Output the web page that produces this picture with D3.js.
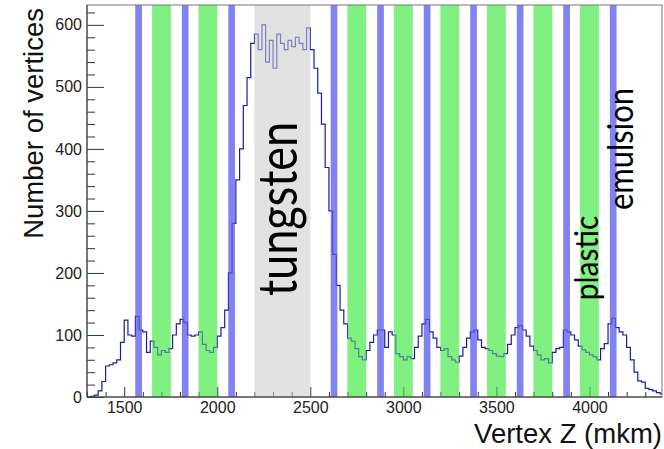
<!DOCTYPE html>
<html>
<head>
<meta charset="utf-8">
<script src="https://cdn.jsdelivr.net/npm/d3@7"></script>
<style>
  body { margin: 0; background: #fff; }
  .tick text { font-family: "Liberation Sans", Arial, sans-serif; font-size: 16px; fill: #222; }
  .aTitle { font-family: "Liberation Sans", Arial, sans-serif; font-size: 27.5px; fill: #111; }
  .note { font-family: Lato, "Open Sans", sans-serif; font-weight: 400; fill: #000; }
</style>
</head>
<body>
<div id="chart"></div>
<script>
// vertex Z histogram with detector layers
var svgWidth = 664;
var svgHeight = 449;

var margin = { top: 5, right: 2, bottom: 52, left: 87 };
var width = svgWidth - margin.left - margin.right;
var height = svgHeight - margin.top - margin.bottom;

// histogram: 20 mkm bins starting at 1300
var binStart = 1300;
var binWidth = 20;
var counts = [
  0, 1, 3, 10, 25, 50, 52, 55, 60, 88,
  124, 100, 98, 130, 108, 105, 72, 90, 80, 68,
  75, 72, 78, 100, 118, 125, 120, 100, 98, 100,
  105, 85, 75, 72, 80, 98, 112, 140, 200, 280,
  350, 400, 470, 515, 570, 585, 560, 600, 540, 575,
  530, 585, 570, 560, 575, 565, 580, 570, 560, 595,
  560, 530, 490, 440, 370, 300, 230, 180, 140, 118,
  95, 90, 78, 65, 60, 75, 88, 100, 108, 108,
  80, 105, 100, 70, 65, 60, 65, 62, 80, 98,
  118, 125, 105, 95, 80, 75, 78, 65, 60, 56,
  66, 80, 95, 105, 108, 92, 80, 78, 75, 70,
  66, 65, 70, 85, 100, 112, 115, 108, 98, 82,
  75, 68, 60, 62, 55, 72, 78, 80, 108, 105,
  100, 92, 82, 76, 72, 68, 65, 60, 78, 86,
  118, 127, 112, 105, 100, 80, 60, 40, 26, 24,
  14, 12, 10, 7, 5
];

// detector layers (mkm)
var emulsionLayers = [[1560, 1595], [1810, 1845], [2060, 2095], [2610, 2645], [2860, 2895],
                      [3110, 3145], [3360, 3395], [3610, 3645], [3860, 3895], [4110, 4145]];
var plasticLayers = [[1650, 1750], [1900, 2000], [2700, 2800], [2950, 3050],
                     [3200, 3300], [3450, 3550], [3700, 3800], [3950, 4050]];
var tungstenLayer = [[2200, 2500]];

var xTicks = [1500, 2000, 2500, 3000, 3500, 4000];
var yTicks = [0, 100, 200, 300, 400, 500, 600];

var svg = d3.select("#chart")
  .append("svg")
  .attr("width", svgWidth)
  .attr("height", svgHeight);

var chartGroup = svg.append("g")
  .attr("transform", `translate(${margin.left}, ${margin.top})`);

var x = d3.scaleLinear().domain([1300, 4390]).range([0, width]);
var y = d3.scaleLinear().domain([0, 632]).range([height, 0]);

chartGroup.append("clipPath").attr("id", "clip")
  .append("rect").attr("width", width).attr("height", height);

var plot = chartGroup.append("g").attr("clip-path", "url(#clip)");

function drawBands(g, layers, color, opacity) {
  g.selectAll(null)
    .data(layers)
    .enter()
    .append("rect")
    .attr("x", d => x(d[0]))
    .attr("width", d => x(d[1]) - x(d[0]))
    .attr("y", 0)
    .attr("height", height)
    .attr("fill", color)
    .attr("fill-opacity", opacity);
}

var bandColors = { tungsten: "#e2e2e2", plastic: "#80f080", emulsion: "#8282f2" };

drawBands(plot, tungstenLayer, bandColors.tungsten, 1);
drawBands(plot, plasticLayers, bandColors.plastic, 1);
drawBands(plot, emulsionLayers, bandColors.emulsion, 1);

// step line
var pts = counts.map((c, i) => [binStart + i * binWidth, c]);
pts.push([binStart + counts.length * binWidth, counts[counts.length - 1]]);

var line = d3.line()
  .x(d => x(d[0]))
  .y(d => y(d[1]))
  .curve(d3.curveStepAfter);

plot.append("path")
  .datum(pts)
  .attr("d", line)
  .attr("fill", "none")
  .attr("stroke", "#1c1c9c")
  .attr("stroke-width", 1.2);

// axes
var xMinor = d3.range(1300, 4400, 100).filter(v => xTicks.indexOf(v) < 0);
var yMinor = d3.range(0, 640, 20).filter(v => yTicks.indexOf(v) < 0);

chartGroup.append("g")
  .attr("transform", `translate(0, ${height})`)
  .call(d3.axisBottom(x).tickValues(xMinor).tickSize(-5).tickSizeOuter(0).tickFormat(""))
  .call(g => g.select(".domain").remove());

chartGroup.append("g")
  .attr("transform", `translate(0, ${height})`)
  .call(d3.axisBottom(x).tickValues(xTicks).tickSize(-10).tickSizeOuter(0).tickPadding(5)
    .tickFormat(d3.format("d")))
  .call(g => g.select(".domain").remove());

chartGroup.append("g")
  .call(d3.axisLeft(y).tickValues(yMinor).tickSize(-8).tickSizeOuter(0).tickFormat(""))
  .call(g => g.select(".domain").remove());

chartGroup.append("g")
  .call(d3.axisLeft(y).tickValues(yTicks).tickSize(-17).tickSizeOuter(0).tickPadding(5)
    .tickFormat(d3.format("d")))
  .call(g => g.select(".domain").remove());

chartGroup.selectAll(".tick line").attr("stroke", "#333");

// layers again on top so the line shows through them
var overlay = chartGroup.append("g").attr("clip-path", "url(#clip)");
drawBands(overlay, tungstenLayer, bandColors.tungsten, 0.5);
drawBands(overlay, plasticLayers, bandColors.plastic, 0.5);
drawBands(overlay, emulsionLayers, bandColors.emulsion, 0.5);

// frame
chartGroup.append("rect")
  .attr("width", width)
  .attr("height", height)
  .attr("fill", "none")
  .attr("stroke", "#777")
  .attr("stroke-width", 1);

chartGroup.append("line")
  .attr("x1", 0).attr("x2", width)
  .attr("y1", height).attr("y2", height)
  .attr("stroke", "#333");
chartGroup.append("line")
  .attr("x1", 0).attr("x2", 0)
  .attr("y1", 0).attr("y2", height)
  .attr("stroke", "#333");

// axis titles
svg.append("text")
  .attr("class", "aTitle")
  .attr("transform", "translate(43, 8) rotate(-90)")
  .attr("text-anchor", "end")
  .text("Number of vertices");

svg.append("text")
  .attr("class", "aTitle")
  .attr("x", 662)
  .attr("y", 443)
  .attr("text-anchor", "end")
  .text("Vertex Z (mkm)");

// layer labels
function note(txt, bx, cy, size, stretch) {
  svg.append("text")
    .attr("class", "note")
    .attr("transform", `translate(${bx}, ${cy}) rotate(-90) scale(1, ${stretch})`)
    .attr("text-anchor", "middle")
    .style("font-size", size + "px")
    .text(txt);
}
note("tungsten", 297, 209, 45, 1.2);
note("emulsion", 633, 149, 31, 1.1);
note("plastic", 598, 258, 30, 1.1);
</script>
</body>
</html>
